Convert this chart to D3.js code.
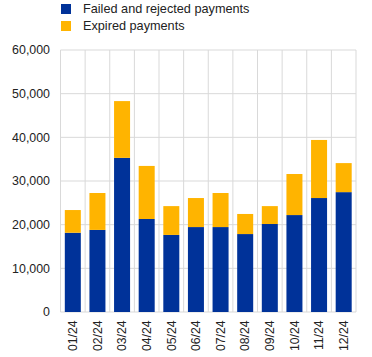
<!DOCTYPE html>
<html><head><meta charset="utf-8">
<script src="https://cdn.jsdelivr.net/npm/d3@7"></script>
<style>body{margin:0;background:#fff;}svg{display:block;font-family:"Liberation Sans",Arial,sans-serif;}</style>
</head><body>
<svg id="c" width="372" height="357"></svg>
<script>
const categories = ["01/24","02/24","03/24","04/24","05/24","06/24","07/24","08/24","09/24","10/24","11/24","12/24"];
const failedRejected = [18150,18800,35300,21300,17650,19450,19450,17850,20150,22200,26100,27450];
const expired = [5200,8450,13000,12150,6600,6650,7800,4600,4100,9400,13300,6650];
const seriesNames = ["Failed and rejected payments","Expired payments"];
const seriesColors = ["#003299","#FFB400"];
const yTicks = [0,10000,20000,30000,40000,50000,60000];

const svg = d3.select("#c");
const m = {l:60.5, r:356, t:50, b:312};
const x = d3.scaleBand().domain(categories).range([m.l, m.r]).paddingInner(0.35).paddingOuter(0.175);
const y = d3.scaleLinear().domain([0,60000]).range([m.b, m.t]);
const grid = "#d9d9d9";

// horizontal grid
svg.append("g").selectAll("line").data(yTicks).join("line")
  .attr("x1", m.l).attr("x2", m.r).attr("y1", d=>y(d)).attr("y2", d=>y(d))
  .attr("stroke", grid).attr("stroke-width", 1);
// vertical grid at band boundaries
const step = x.step();
const bounds = d3.range(categories.length+1).map(i => m.l + i*step);
svg.append("g").selectAll("line").data(bounds).join("line")
  .attr("x1", d=>d).attr("x2", d=>d).attr("y1", m.t).attr("y2", m.b)
  .attr("stroke", grid).attr("stroke-width", 1);

// stacked bars
const rows = categories.map((c,i)=>({cat:c, a:failedRejected[i], b:expired[i]}));
const stack = d3.stack().keys(["a","b"])(rows);
svg.append("g").selectAll("g").data(stack).join("g")
  .attr("fill", (d,i)=>seriesColors[i])
  .selectAll("rect").data(d=>d).join("rect")
  .attr("x", d=>x(d.data.cat)).attr("width", x.bandwidth())
  .attr("y", d=>y(d[1])).attr("height", d=>y(d[0])-y(d[1]));

// y axis labels
const fmt = d3.format(",");
svg.append("g").selectAll("text").data(yTicks).join("text")
  .attr("x", 50).attr("y", d=>y(d)).attr("dy","0.35em")
  .attr("text-anchor","end").attr("font-size",12.4).attr("fill","#222")
  .text(d=>fmt(d));

// x axis labels rotated
svg.append("g").selectAll("text").data(categories).join("text")
  .attr("transform", d=>`translate(${x(d)+x.bandwidth()/2},${m.b+8.5}) rotate(-90)`)
  .attr("text-anchor","end").attr("dy","0.35em").attr("font-size",12.2).attr("fill","#222")
  .text(d=>d);

// legend
const lg = svg.append("g");
seriesNames.forEach((n,i)=>{
  lg.append("rect").attr("x",61).attr("y",4+i*17).attr("width",10).attr("height",10).attr("fill",seriesColors[i]);
  lg.append("text").attr("x",83).attr("y",9+i*17).attr("dy","0.35em").attr("font-size",12.7).attr("fill","#222").text(n);
});
</script>
</body></html>
